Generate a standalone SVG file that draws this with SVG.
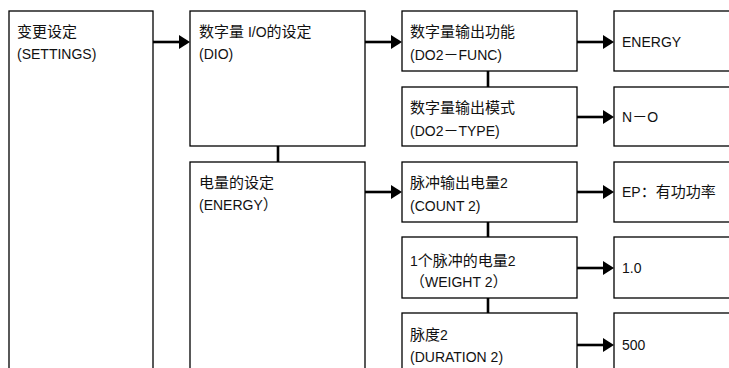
<svg xmlns="http://www.w3.org/2000/svg" width="729" height="368" viewBox="0 0 729 368">
<style>
.box{fill:#fff;stroke:#000;stroke-width:1.3}
.t{font-family:"Liberation Sans","Noto Sans CJK SC",sans-serif;font-size:14px;fill:#111}
.c{font-family:"Noto Sans CJK SC",sans-serif;font-size:15px}
.ln{stroke:#000;stroke-width:2.6;fill:none}
.ah{fill:#000}
</style>
<rect width="729" height="368" fill="#fff"/>
<g id="connectors">
<line class="ln" x1="153" y1="42" x2="181" y2="42"/><polygon class="ah" points="190,42 179,35 179,49"/>
<line class="ln" x1="365" y1="42" x2="393" y2="42"/><polygon class="ah" points="402,42 391,35 391,49"/>
<line class="ln" x1="577" y1="42" x2="605" y2="42"/><polygon class="ah" points="614,42 603,35 603,49"/>
<line class="ln" x1="577" y1="117" x2="605" y2="117"/><polygon class="ah" points="614,117 603,110 603,124"/>
<line class="ln" x1="365" y1="192" x2="393" y2="192"/><polygon class="ah" points="402,192 391,185 391,199"/>
<line class="ln" x1="577" y1="192" x2="605" y2="192"/><polygon class="ah" points="614,192 603,185 603,199"/>
<line class="ln" x1="577" y1="268" x2="605" y2="268"/><polygon class="ah" points="614,268 603,261 603,275"/>
<line class="ln" x1="577" y1="345" x2="605" y2="345"/><polygon class="ah" points="614,345 603,338 603,352"/>
<line class="ln" x1="278" y1="146" x2="278" y2="162"/>
<line class="ln" x1="488" y1="71" x2="488" y2="87"/>
<line class="ln" x1="488" y1="222" x2="488" y2="237"/>
<line class="ln" x1="488" y1="298" x2="488" y2="313"/>
</g>
<g id="settings">
<rect class="box" x="9" y="11" width="144" height="380"/>
<text class="t" x="17" y="37"><tspan class="c">变更设定</tspan></text>
<text class="t" x="17" y="59">(SETTINGS)</text>
</g>
<g id="dio">
<rect class="box" x="190" y="11" width="175" height="135"/>
<text class="t" x="199" y="37"><tspan class="c">数字量</tspan> I/O<tspan class="c">的设定</tspan></text>
<text class="t" x="199" y="59">(DIO)</text>
</g>
<g id="energy">
<rect class="box" x="190" y="162" width="175" height="230"/>
<text class="t" x="199" y="188"><tspan class="c">电量的设定</tspan></text>
<text class="t" x="199" y="210">(ENERGY<tspan class="c">）</tspan></text>
</g>
<g id="do2func">
<rect class="box" x="402" y="11" width="175" height="60"/>
<text class="t" x="410" y="37"><tspan class="c">数字量输出功能</tspan></text>
<text class="t" x="410" y="60">(DO2<tspan class="c">－</tspan>FUNC)</text>
</g>
<g id="do2type">
<rect class="box" x="402" y="87" width="175" height="59"/>
<text class="t" x="410" y="113"><tspan class="c">数字量输出模式</tspan></text>
<text class="t" x="410" y="136">(DO2<tspan class="c">－</tspan>TYPE)</text>
</g>
<g id="count2">
<rect class="box" x="402" y="162" width="175" height="60"/>
<text class="t" x="410" y="188"><tspan class="c">脉冲输出电量</tspan>2</text>
<text class="t" x="410" y="211">(COUNT 2)</text>
</g>
<g id="weight2">
<rect class="box" x="402" y="237" width="175" height="61"/>
<text class="t" x="410" y="266">1<tspan class="c">个脉冲的电量</tspan>2</text>
<text class="t" x="410" y="287"><tspan class="c">（</tspan>WEIGHT 2<tspan class="c">）</tspan></text>
</g>
<g id="duration2">
<rect class="box" x="402" y="313" width="175" height="80"/>
<text class="t" x="410" y="340"><tspan class="c">脉度</tspan>2</text>
<text class="t" x="410" y="362">(DURATION 2)</text>
</g>
<g id="v-energy">
<rect class="box" x="614" y="11" width="140" height="60"/>
<text class="t" x="622" y="47">ENERGY</text>
</g>
<g id="v-no">
<rect class="box" x="614" y="87" width="140" height="59"/>
<text class="t" x="622" y="122">N<tspan class="c">－</tspan>O</text>
</g>
<g id="v-ep">
<rect class="box" x="614" y="162" width="140" height="60"/>
<text class="t" x="622" y="197">EP<tspan class="c">：有功功率</tspan></text>
</g>
<g id="v-1">
<rect class="box" x="614" y="237" width="140" height="61"/>
<text class="t" x="622" y="273">1.0</text>
</g>
<g id="v-500">
<rect class="box" x="614" y="313" width="140" height="80"/>
<text class="t" x="622" y="350">500</text>
</g>
</svg>
